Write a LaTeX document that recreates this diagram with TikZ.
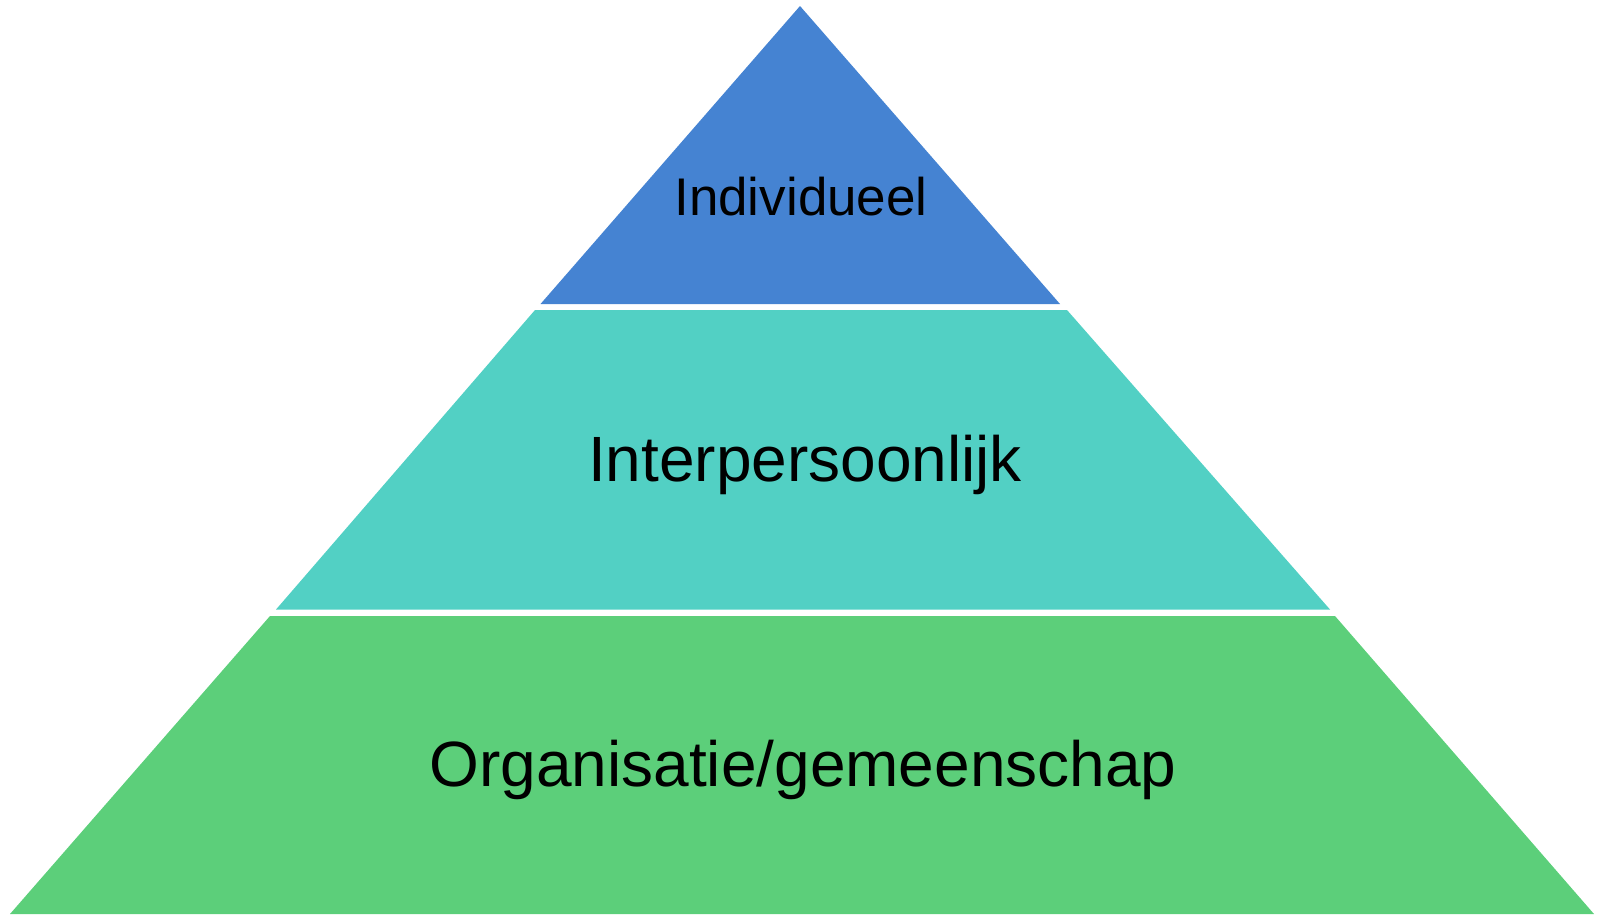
\documentclass[tikz,border=0pt]{standalone}
\usepackage{xcolor}
\usepackage{fontspec}
\setmainfont{Liberation Sans}
\usepackage{tikz}
\usetikzlibrary{positioning}

\definecolor{topblue}{RGB}{69,131,210}
\definecolor{midteal}{RGB}{82,208,196}
\definecolor{lowgreen}{RGB}{92,207,122}

\tikzset{
  level/.style={inner sep=0pt, anchor=base, text=black}
}

\begin{document}
\begin{tikzpicture}[x=1pt, y=-1pt]
\useasboundingbox (0,0) rectangle (1600,914);

\fill[topblue] (800,6) -- (1060,304) -- (540.5,304) -- cycle;
\fill[midteal] (535,310) -- (1067,310) -- (1330,609.5) -- (276,609.5) -- cycle;
\fill[lowgreen] (270,616) -- (1335,616) -- (1594,914) -- (10,914) -- cycle;

\node[level, font=\fontsize{53}{60}\selectfont] (indiv) at (801,215) {Individueel};
\node[level, font=\fontsize{64}{74}\selectfont] (inter) at (805,481) {Interpersoonlijk};
\node[level, font=\fontsize{64}{74}\selectfont] (organ) at (803,786) {Organisatie/gemeenschap};
\end{tikzpicture}
\end{document}
